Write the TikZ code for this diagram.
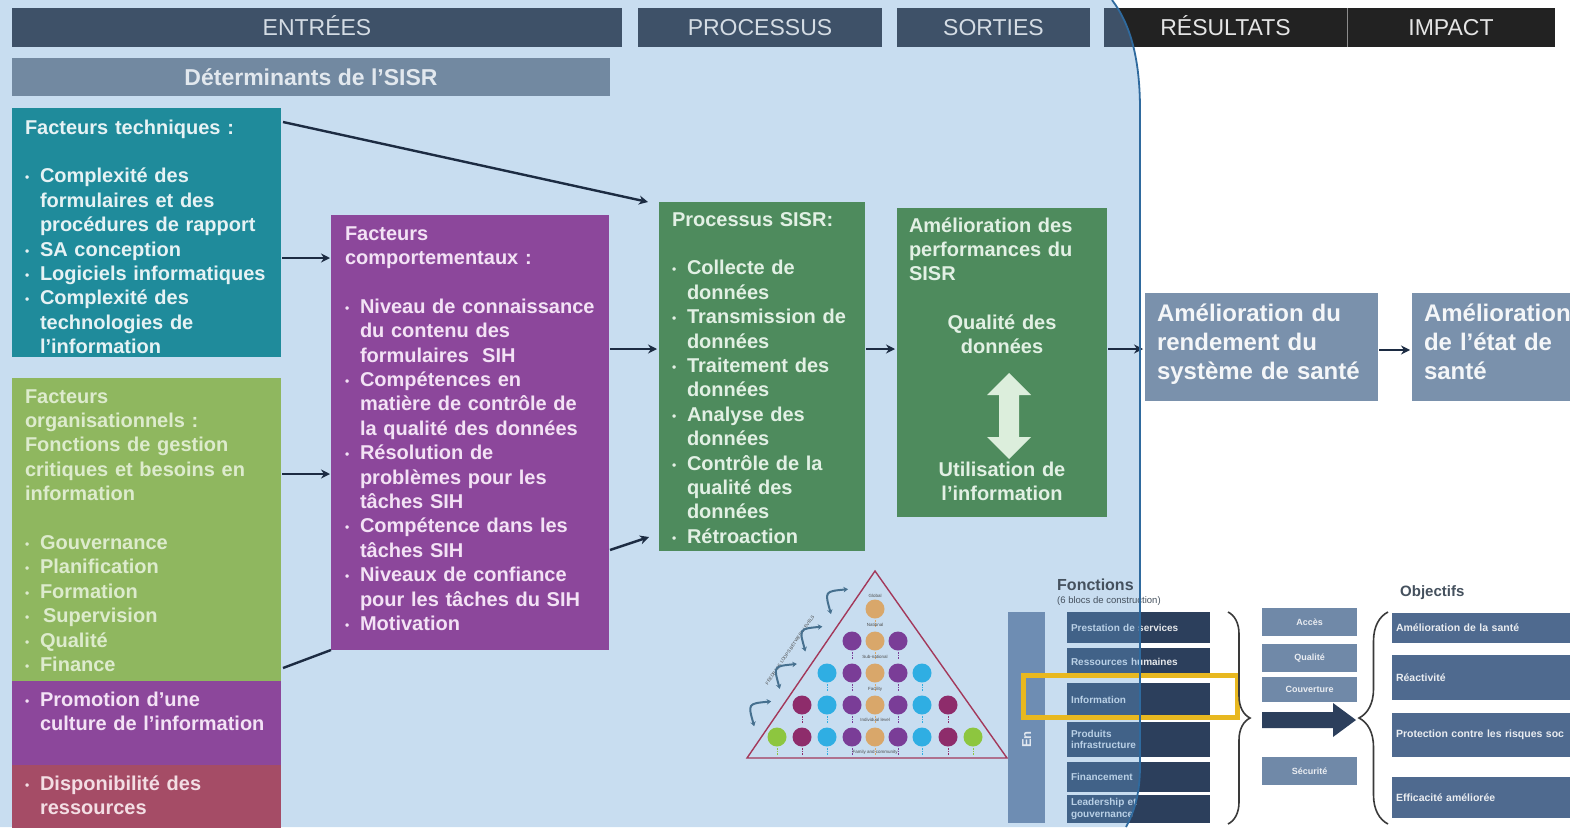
\documentclass[tikz,border=0pt]{standalone}
\usepackage{fontspec}
\setmainfont{Liberation Sans}
\usetikzlibrary{calc,arrows.meta,decorations.pathreplacing}

% palette
\definecolor{bgblue}{HTML}{C8DDF0}
\definecolor{edgeblue}{HTML}{2F6A9E}
\definecolor{hdrslate}{HTML}{3E5168}
\definecolor{hdrdark}{HTML}{222222}
\definecolor{hdrtext}{HTML}{D4DCE4}
\definecolor{detbar}{HTML}{7289A1}
\definecolor{dettext}{HTML}{E2E8EE}
\definecolor{tealbox}{HTML}{1F8B9B}
\definecolor{tealtext}{HTML}{E6F2F4}
\definecolor{olivebox}{HTML}{8FB75F}
\definecolor{olivetext}{HTML}{DDEBCD}
\definecolor{plumbox}{HTML}{8C479B}
\definecolor{plumtext}{HTML}{F3E2F5}
\definecolor{rosebox}{HTML}{A54C66}
\definecolor{rosetext}{HTML}{F3DEE4}
\definecolor{greenbox}{HTML}{4E8B5D}
\definecolor{greentext}{HTML}{E2F0E4}
\definecolor{arrowpale}{HTML}{DCEEDC}
\definecolor{slatebox}{HTML}{7A91AC}
\definecolor{arrowink}{HTML}{1C2B42}
\definecolor{navyblock}{HTML}{2C3F5C}
\definecolor{navytint}{HTML}{416288}
\definecolor{navytinttext}{HTML}{B9D0E6}
\definecolor{entrybar}{HTML}{6E8DB3}
\definecolor{greyblock}{HTML}{7089A8}
\definecolor{objblock}{HTML}{4F6A8F}
\definecolor{fonctink}{HTML}{45515E}
\definecolor{highlight}{HTML}{E8B820}
\definecolor{braceink}{HTML}{3A3A3A}
\definecolor{pyedge}{HTML}{A3385A}
\definecolor{pytan}{HTML}{D9A76A}
\definecolor{pyviolet}{HTML}{7A3D97}
\definecolor{pycyan}{HTML}{2FAEE3}
\definecolor{pyplum}{HTML}{8E2C6B}
\definecolor{pylime}{HTML}{8DC63F}
\definecolor{loopink}{HTML}{46708F}

% list helpers
\newcommand\bulx{\makebox[15pt][l]{\fontsize{12}{12}\selectfont\raisebox{1pt}{•}}}
\newcommand\indx{\hspace*{15pt}}

\begin{document}
\begin{tikzpicture}[x=1pt,y=-1pt,
  panel/.style={rectangle, draw=none, inner sep=0pt, outer sep=0pt, anchor=north west},
  hdr/.style={panel, text=hdrtext, font=\fontsize{23}{26}\selectfont, text height=16.5pt, text depth=0pt},
  txt/.style={anchor=base west, inner sep=0pt, outer sep=0pt, align=left, text width=#1,
              font=\bfseries\fontsize{20}{24.4}\selectfont},
  txt/.default=300pt,
  conn/.style={draw=arrowink, line width=2.4pt, -{Stealth[length=9pt,width=9pt]}},
  plainconn/.style={draw=arrowink, line width=2.4pt},
  blk/.style={panel, fill=navyblock, minimum width=143, text width=135pt, inner xsep=4pt,
              align=left, text=white!88!navyblock, font=\bfseries\fontsize{10}{11.5}\selectfont, anchor=north west},
  smallbox/.style={panel, fill=greyblock, minimum width=95, minimum height=28,
              text=white!85!greyblock, font=\bfseries\fontsize{9}{10}\selectfont},
  objbox/.style={panel, fill=objblock, text width=300pt, inner xsep=4pt, align=left,
              text=white!88!objblock, font=\bfseries\fontsize{10.5}{12}\selectfont},
  tiny/.style={inner sep=0pt, font=\fontsize{4.5}{5}\selectfont, text=black!70},
  loop/.style={draw=loopink, line width=2pt, {Stealth[length=4.5pt,width=5.5pt]}-{Stealth[length=4.5pt,width=5.5pt]}}
]
\useasboundingbox (0,0) rectangle (1570,827);
\clip (0,0) rectangle (1570,827);
\fill[white] (0,0) rectangle (1570,827);

% shaded left-hand region with rounded right edge
\fill[bgblue] (0,0) -- (1112,0) .. controls (1131,25) and (1140,60) .. (1140,110)
  -- (1140,765) .. controls (1140,795) and (1134,812) .. (1126,827) -- (0,827) -- cycle;

% column headers
\node[hdr, fill=hdrslate, minimum width=610, minimum height=39] (entrees) at (12,8) {ENTRÉES};
\node[hdr, fill=hdrslate, minimum width=244, minimum height=39] (processus) at (638,8) {PROCESSUS};
\node[hdr, fill=hdrslate, minimum width=193, minimum height=39] (sorties) at (897,8) {SORTIES};
\node[hdr, fill=hdrdark, text=white!90!black, minimum width=243, minimum height=39] (resultats) at (1104,8) {RÉSULTATS};
\node[hdr, fill=hdrdark, text=white!90!black, minimum width=208, minimum height=39] (impact) at (1347,8) {IMPACT};
\draw[black!45, line width=0.8pt] (impact.north west) -- (impact.south west);

\node[panel, fill=detbar, minimum width=598, minimum height=38, text=dettext,
      font=\bfseries\fontsize{23}{26}\selectfont, text height=16.5pt, text depth=0pt] (determ) at (12,58) {Déterminants de l’SISR};

% technical factors
\node[panel, fill=tealbox, minimum width=269, minimum height=249] (tech) at (12,108) {};
\node[txt, text=tealtext] (techtxt) at (25,134) {Facteurs techniques :\\[24.4pt]
\bulx Complexité des\\
\indx formulaires et des\\
\indx procédures de rapport\\
\bulx SA conception\\
\bulx Logiciels informatiques\\
\bulx Complexité des\\
\indx technologies de\\
\indx l'information};

% organisational factors
\node[panel, fill=olivebox, minimum width=269, minimum height=303] (org) at (12,378) {};
\node[txt, text=olivetext] (orgtxt) at (25,403) {Facteurs\\
organisationnels :\\
Fonctions de gestion\\
critiques et besoins en\\
information\\[24.4pt]
\bulx Gouvernance\\
\bulx Planification\\
\bulx Formation\\
\bulx\hspace{3pt}Supervision\\
\bulx Qualité\\
\bulx Finance};
\node[panel, fill=plumbox, minimum width=269, minimum height=84] (culture) at (12,681) {};
\node[txt, text=plumtext] (culturetxt) at (25,706) {\bulx Promotion d'une\\
\indx culture de l'information};
\node[panel, fill=rosebox, minimum width=269, minimum height=70] (ressources) at (12,765) {};
\node[txt, text=rosetext] (ressourcestxt) at (25,790) {\bulx Disponibilité des\\
\indx ressources};

% behavioural factors
\node[panel, fill=plumbox, minimum width=278, minimum height=435] (behav) at (331,215) {};
\node[txt, text=plumtext] (behavtxt) at (345,240) {Facteurs\\
comportementaux :\\[24.4pt]
\bulx Niveau de connaissance\\
\indx du contenu des\\
\indx formulaires\ \ SIH\\
\bulx Compétences en\\
\indx matière de contrôle de\\
\indx la qualité des données\\
\bulx Résolution de\\
\indx problèmes pour les\\
\indx tâches SIH\\
\bulx Compétence dans les\\
\indx tâches SIH\\
\bulx Niveaux de confiance\\
\indx pour les tâches du SIH\\
\bulx Motivation};

% process
\node[panel, fill=greenbox, minimum width=206, minimum height=349] (proc) at (659,202) {};
\node[txt, text=greentext] (proctxt) at (672,226) {Processus SISR:\\[24.4pt]
\bulx Collecte de\\
\indx données\\
\bulx Transmission de\\
\indx données\\
\bulx Traitement des\\
\indx données\\
\bulx Analyse des\\
\indx données\\
\bulx Contrôle de la\\
\indx qualité des\\
\indx données\\
\bulx Rétroaction};

% outputs
\node[panel, fill=greenbox, minimum width=210, minimum height=309] (perf) at (897,208) {};
\node[txt, text=greentext] (perftxt) at (909,232) {Amélioration des\\
performances du\\
SISR};
\node[txt=190pt, align=center, anchor=base, text=greentext] (qualite) at (1002,329) {Qualité des\\données};
\node[txt=190pt, align=center, anchor=base, text=greentext] (usage) at (1002,476) {Utilisation de\\l'information};
\fill[arrowpale] (1009,373) -- (1031,395) -- (1019,395) -- (1019,437) -- (1031,437) -- (1009,459)
  -- (987,437) -- (999,437) -- (999,395) -- (987,395) -- cycle;

% outcomes and impact
\node[panel, fill=slatebox, minimum width=233, minimum height=108] (rend) at (1145,293) {};
\node[txt=230pt, font=\bfseries\fontsize{24}{29}\selectfont, text=white!92!slatebox] (rendtxt) at (1157,321)
  {Amélioration du\\rendement du\\système de santé};
\node[panel, fill=slatebox, minimum width=170, minimum height=108] (etat) at (1412,293) {};
\node[txt=230pt, font=\bfseries\fontsize{24}{29}\selectfont, text=white!92!slatebox] (etattxt) at (1424,321)
  {Amélioration\\de l’état de\\santé};

% connectors
\draw[conn] ($(tech.north east)+(2,14)$) -- ($(proc.north west)+(-11,0)$);
\draw[conn] ($(tech.north east)+(1,150)$) -- ($(behav.north west)+(-1,43)$);
\draw[conn] ($(org.north east)+(1,96)$) -- ($(behav.north west)+(-1,259)$);
\draw[plainconn] ($(org.north east)+(2,290)$) -- (behav.south west);
\draw[conn] ($(behav.north east)+(1,134)$) -- ($(proc.north west)+(-2,147)$);
\draw[conn] ($(behav.north east)+(1,335)$) -- ($(proc.north west)+(-10,335)$);
\draw[conn] ($(proc.north east)+(1,147)$) -- ($(perf.north west)+(-2,141)$);
\draw[conn] ($(perf.north east)+(1,141)$) -- ($(rend.north west)+(-2,56)$);
\draw[conn] ($(rend.north east)+(1,57)$) -- ($(etat.north west)+(-2,57)$);

% levels pyramid
\draw[pyedge, line width=1.4pt, line join=miter] (875,571) -- (1007,758) -- (747,758) -- cycle;
\foreach \cx/\cy/\cc in {875/609/pytan,
  852/641/pyviolet, 875/641/pytan, 898/641/pyviolet,
  827/673/pycyan, 852/673/pyviolet, 875/673/pytan, 898/673/pyviolet, 922/673/pycyan,
  802/705/pyplum, 827/705/pycyan, 852/705/pyviolet, 875/705/pytan, 898/705/pyviolet, 922/705/pycyan, 948/705/pyplum,
  777/737/pylime, 802/737/pyplum, 827/737/pycyan, 852/737/pyviolet, 875/737/pytan, 898/737/pyviolet, 922/737/pycyan, 948/737/pyplum, 973/737/pylime}
{
  \draw[\cc, line width=0.8pt, dash pattern=on 1.5pt off 1pt] (\cx,\cy+11) -- (\cx,\cy+18);
  \fill[\cc] (\cx,\cy) circle[radius=9.5];
}
\node[tiny] (lvglobal) at (875,596) {Global};
\node[tiny] (lvnational) at (875,625) {National};
\node[tiny] (lvsub) at (875,657) {Sub-national};
\node[tiny] (lvfacility) at (875,689) {Facility};
\node[tiny] (lvindiv) at (875,720) {Individual level};
\node[tiny] (lvfamily) at (875,752) {Family and community};
\node[tiny, rotate=55.6] (loopslbl) at (790,650) {FEEDBACK LOOPS BETWEEN LEVELS};
% feedback loops between levels, along the left edge
\draw[loop] (754.2,726.2) .. controls (747.8,703.6) .. (771.2,701.4);
\draw[loop] (779.8,688.8) .. controls (773.4,666.2) .. (796.8,664.0);
\draw[loop] (805.4,651.4) .. controls (799.0,628.8) .. (822.4,626.6);
\draw[loop] (831.0,614.0) .. controls (824.6,591.4) .. (848.0,589.2);

% building blocks panel
\node[anchor=base west, inner sep=0pt, font=\bfseries\fontsize{16}{18}\selectfont, text=fonctink] (fonctitle) at (1057,590) {Fonctions};
\node[anchor=base west, inner sep=0pt, font=\fontsize{9.5}{11}\selectfont, text=fonctink] (foncsub) at (1057,603) {(6 blocs de construction)};
\node[panel, fill=entrybar, minimum width=37, minimum height=211] (entrybar) at (1008,612) {};
\node[rotate=90, anchor=base west, inner sep=0pt, font=\bfseries\fontsize{13}{13}\selectfont, text=white!80!entrybar] (entrylbl) at (1031,748) {En};
\foreach \yy/\hh/\lbl [count=\i] in {612/31/{Prestation de services}, 648/27/{Ressources humaines},
   683/34/{Information}, 722/35/{Produits\\infrastructure}, 762/30/{Financement}, 795/28/{Leadership et\\gouvernance}}
  \node[blk, minimum height=\hh] (blk\i) at (1067,\yy) {\lbl};

% the part of the blocks and of the header lying in the shaded region is tinted
\begin{scope}
  \clip (0,0) -- (1112,0) .. controls (1131,25) and (1140,60) .. (1140,110)
    -- (1140,765) .. controls (1140,795) and (1134,812) .. (1126,827) -- (0,827) -- cycle;
  \fill[hdrslate] (resultats.north west) rectangle (resultats.south east);
  \foreach \yy/\hh/\lbl [count=\i] in {612/31/{Prestation de services}, 648/27/{Ressources humaines},
     683/34/{Information}, 722/35/{Produits\\infrastructure}, 762/30/{Financement}, 795/28/{Leadership et\\gouvernance}}
    \node[blk, fill=navytint, text=navytinttext, minimum height=\hh] (blkt\i) at (1067,\yy) {\lbl};
\end{scope}

\node[panel, draw=highlight, line width=5pt, minimum width=214, minimum height=42] (focus) at (1023,675) {};
\draw[braceink, line width=1.6pt, decorate, decoration={brace, amplitude=22pt}] (1228,612) -- (1228,824);

\node[smallbox] (acces) at (1262,608) {Accès};
\node[smallbox] (qualitebox) at (1262,644) {Qualité};
\node[smallbox, minimum height=25] (couverture) at (1262,677) {Couverture};
\node[smallbox] (securite) at (1262,757) {Sécurité};
\fill[navyblock] (1262,712) -- (1333,712) -- (1333,703) -- (1356,720) -- (1333,737) -- (1333,728) -- (1262,728) -- cycle;
\draw[braceink, line width=1.6pt, decorate, decoration={brace, amplitude=29pt}] (1388,824) -- (1388,612);

\node[anchor=base west, inner sep=0pt, font=\bfseries\fontsize{15}{17}\selectfont, text=fonctink] (objtitle) at (1400,596) {Objectifs};
\node[objbox, minimum height=30] (obj1) at (1392,613) {Amélioration de la santé};
\node[objbox, minimum height=45] (obj2) at (1392,655) {Réactivité};
\node[objbox, minimum height=44] (obj3) at (1392,713) {Protection contre les risques soc};
\node[objbox, minimum height=41] (obj4) at (1392,777) {Efficacité améliorée};

% rounded edge of the shaded region
\draw[edgeblue, line width=1.8pt] (1112,0) .. controls (1131,25) and (1140,60) .. (1140,110)
  -- (1140,765) .. controls (1140,795) and (1134,812) .. (1126,827);
\end{tikzpicture}
\end{document}
